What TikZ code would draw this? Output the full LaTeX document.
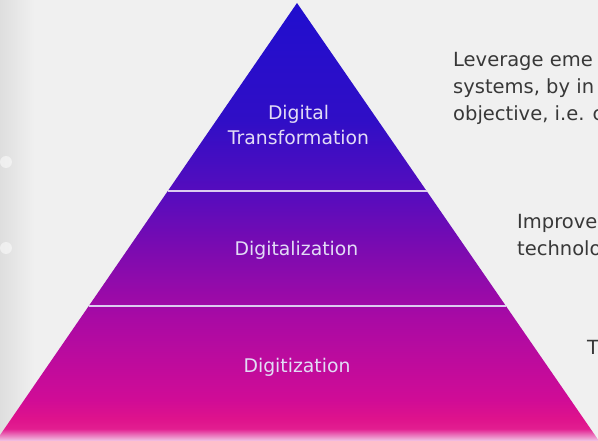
\documentclass[tikz,border=0pt]{standalone}
\usepackage{fontspec}
\setmainfont{DejaVu Sans}
\usetikzlibrary{calc}
\definecolor{bg}{HTML}{F0F0F0}
\definecolor{lbl}{HTML}{E2DCF6}
\definecolor{side}{HTML}{383838}
\definecolor{divider}{HTML}{DCCCF0}
\pgfdeclareverticalshading{pyr}{100bp}{%
  color(0bp)=(white);
  color(25bp)=({rgb,255:red,242;green,200;blue,230});
  color(26.4bp)=({rgb,255:red,226;green,30;blue,144});
  color(27.6bp)=({rgb,255:red,222;green,18;blue,140});
  color(29.7bp)=({rgb,255:red,208;green,12;blue,150});
  color(38.8bp)=({rgb,255:red,170;green,10;blue,164});
  color(46.8bp)=({rgb,255:red,124;green,11;blue,176});
  color(52.5bp)=({rgb,255:red,90;green,12;blue,188});
  color(61.6bp)=({rgb,255:red,48;green,14;blue,198});
  color(75bp)=({rgb,255:red,32;green,14;blue,206});
  color(100bp)=({rgb,255:red,32;green,14;blue,206})}
\tikzset{
  tierlabel/.style={text=lbl, font=\fontsize{18.8}{25}\selectfont, align=center, inner sep=0pt},
  sidetext/.style={text=side, font=\fontsize{19.5}{27}\selectfont, anchor=base west, inner sep=0pt},
  tierline/.style={draw=divider, line width=1.3pt}
}
\begin{document}
\begin{tikzpicture}[x=1pt,y=-1pt]
\fill[bg] (0,0) rectangle (598,441);
\useasboundingbox (0,0) rectangle (598,441);
% left blurred strip
\shade[left color={rgb,255:red,222;green,222;blue,222}, right color=bg] (0,0) rectangle (34,441);
\fill[white, opacity=0.5] (6,162) circle (6);
\fill[white, opacity=0.5] (6,248) circle (6);
% pyramid
\coordinate (apex) at (297,3);
\coordinate (bl) at (-4,441);
\coordinate (br) at (599,441);
\shade[shading=pyr] (apex) -- (br) -- (bl) -- cycle;
% divider lines
\coordinate (l1) at ($(apex)!0.4292!(bl)$);
\coordinate (r1) at ($(apex)!0.4292!(br)$);
\coordinate (l2) at ($(apex)!0.6918!(bl)$);
\coordinate (r2) at ($(apex)!0.6918!(br)$);
\draw[tierline] (l1) -- (r1);
\draw[tierline] (l2) -- (r2);
% labels
\node[tierlabel] (dt) at (298.5,125.3) {Digital\\Transformation};
\node[tierlabel, anchor=base] (dz) at (296.5,256) {Digitalization};
\node[tierlabel, anchor=base] (dg) at (297,372) {Digitization};
% side texts
\node[sidetext] (s1) at (453,67) {Leverage eme};
\node[sidetext] (s2) at (453,94) {systems, by in};
\node[sidetext] (s3) at (453,121) {objective, i.e. c};
\node[sidetext] (s4) at (517,229) {Improve};
\node[sidetext] (s5) at (517,256) {technolo};
\node[sidetext] (s6) at (587,354) {T};
\end{tikzpicture}
\end{document}
